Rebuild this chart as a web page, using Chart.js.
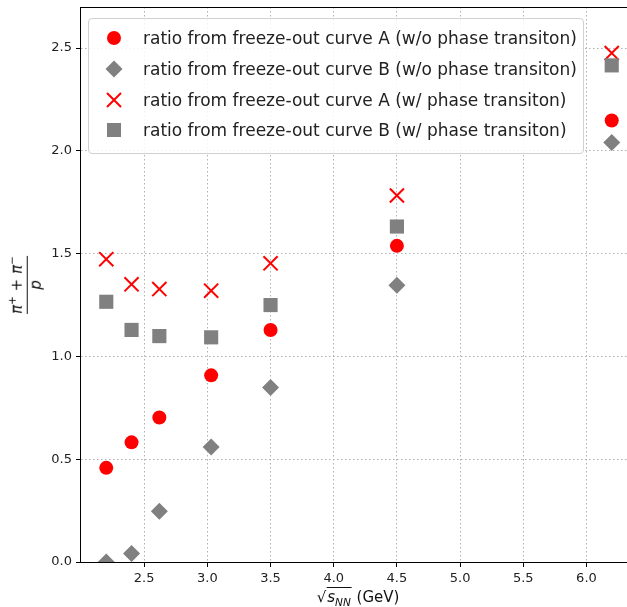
<!DOCTYPE html>
<html>
<head>
<meta charset="utf-8">
<script src="https://cdn.jsdelivr.net/npm/chart.js@4"></script>
<style>
  body { margin: 0; overflow: hidden; background: #fff; font-family: "DejaVu Sans", sans-serif; }
  #wrap { position: relative; width: 640px; height: 607px; }
  #legend {
    position: absolute; left: 88px; top: 18px; width: 494px; height: 130px;
    border: 1px solid #d0d0d0; border-radius: 4px; background: rgba(255,255,255,0.85);
    padding-top: 4px; box-sizing: content-box;
  }
  .row { height: 30.7px; display: flex; align-items: center; font-size: 17px; color: #222; white-space: nowrap; }
  .row svg { margin-left: 15px; margin-right: 19px; }
  #ylab {
    position: absolute; left: 27px; top: 285px; text-align: center; font-size: 15px; line-height: 1.05;
    transform: translate(-50%, -50%) rotate(-90deg); color: #111; white-space: nowrap;
  }
  #ylab .bar { border-top: 1px solid #111; margin: 1px 0; }
  #xlab {
    position: absolute; left: 358px; top: 597px; transform: translate(-50%, -50%);
    font-size: 15px; color: #111; white-space: nowrap;
  }
  sup, sub { font-size: 70%; line-height: 0; }
</style>
</head>
<body>
<div id="wrap">
  <canvas id="ratio-chart" width="640" height="607"></canvas>
  <div id="legend"></div>
  <div id="ylab">
    <div><i>π</i><sup>+</sup> + <i>π</i><sup>−</sup></div>
    <div class="bar"></div>
    <div><i>p</i></div>
  </div>
  <div id="xlab">√<span style="border-top:1px solid #111;padding:0 1px;"><i>s</i><sub><i>NN</i></sub></span> (GeV)</div>
</div>
<script>
// Collision energies and pi/p ratios
const energies = [2.2, 2.4, 2.62, 3.03, 3.5, 4.5, 6.2];
const ratioA = [0.458, 0.582, 0.703, 0.908, 1.129, 1.538, 2.148];
const ratioB = [0.0, 0.041, 0.247, 0.559, 0.849, 1.346, 2.041];
const ratioAPT = [1.473, 1.351, 1.328, 1.32, 1.453, 1.783, 2.476];
const ratioBPT = [1.266, 1.129, 1.099, 1.093, 1.25, 1.632, 2.416];

const seriesLabels = [
  "ratio from freeze-out curve A (w/o phase transiton)",
  "ratio from freeze-out curve B (w/o phase transiton)",
  "ratio from freeze-out curve A (w/ phase transiton)",
  "ratio from freeze-out curve B (w/ phase transiton)",
];

const xTicks = [2.5, 3.0, 3.5, 4.0, 4.5, 5.0, 5.5, 6.0];
const yTicks = [0.0, 0.5, 1.0, 1.5, 2.0, 2.5];

const RED = "#ff0000";
const GRAY = "#808080";

function toPoints(ys) {
  return energies.map((x, i) => ({ x: x, y: ys[i] }));
}

// Legend markers (small svgs)
const legendIcons = [
  '<svg width="20" height="20"><circle cx="10" cy="10" r="7" fill="' + RED + '"/></svg>',
  '<svg width="20" height="20"><polygon points="10,1.5 18.5,10 10,18.5 1.5,10" fill="' + GRAY + '"/></svg>',
  '<svg width="20" height="20"><path d="M3,3 L17,17 M17,3 L3,17" stroke="' + RED + '" stroke-width="2"/></svg>',
  '<svg width="20" height="20"><rect x="3" y="3" width="14" height="14" fill="' + GRAY + '"/></svg>',
];
document.getElementById("legend").innerHTML = seriesLabels
  .map((label, i) => '<div class="row">' + legendIcons[i] + "<span>" + label + "</span></div>")
  .join("");

// Draw the box around the plot area
const framePlugin = {
  id: "frame",
  afterDatasetsDraw(chart) {
    const a = chart.chartArea;
    const c = chart.ctx;
    c.save();
    c.strokeStyle = "#000";
    c.lineWidth = 1;
    c.strokeRect(Math.round(a.left) - 0.5, Math.round(a.top) + 0.5, Math.round(a.right - a.left), Math.round(a.bottom - a.top));
    c.restore();
  },
};

const gridStyle = {
  color: "#b0b0b0",
  lineWidth: 1,
  drawTicks: true,
  tickLength: 5,
  tickColor: "#000",
  tickBorderDash: [],
  tickWidth: 1,
};

// in v4 the grid line dash lives in border options
const borderStyle = { display: false, dash: [1.5, 2.5] };

const tickFont = { family: "DejaVu Sans", size: 13 };

const ctx = document.getElementById("ratio-chart").getContext("2d");
const ratioChart = new Chart(ctx, {
  type: "scatter",
  data: {
    datasets: [
      {
        label: seriesLabels[0],
        data: toPoints(ratioA),
        pointStyle: "circle",
        pointRadius: 7,
        backgroundColor: RED,
        borderColor: RED,
        borderWidth: 0,
        order: 4,
      },
      {
        label: seriesLabels[1],
        data: toPoints(ratioB),
        pointStyle: "rectRot",
        pointRadius: 8.5,
        backgroundColor: GRAY,
        borderColor: GRAY,
        borderWidth: 0,
        order: 3,
      },
      {
        label: seriesLabels[2],
        data: toPoints(ratioAPT),
        pointStyle: "crossRot",
        pointRadius: 10,
        backgroundColor: RED,
        borderColor: RED,
        borderWidth: 2,
        order: 2,
      },
      {
        label: seriesLabels[3],
        data: toPoints(ratioBPT),
        pointStyle: "rect",
        pointRadius: 10,
        backgroundColor: GRAY,
        borderColor: GRAY,
        borderWidth: 0,
        order: 1,
      },
    ],
  },
  options: {
    responsive: false,
    animation: false,
    devicePixelRatio: 1,
    layout: { autoPadding: false, padding: { top: 7, right: 3, left: 0, bottom: 0 } },
    plugins: {
      legend: { display: false },
      tooltip: { enabled: false },
    },
    scales: {
      x: {
        type: "linear",
        min: 2.0,
        max: 6.4,
        afterBuildTicks: (scale) => {
          scale.ticks = xTicks.map((v) => ({ value: v }));
        },
        afterFit: (scale) => {
          scale.height = 45;
          scale.paddingLeft = 0;
          scale.paddingRight = 0;
        },
        grid: gridStyle,
        border: borderStyle,
        ticks: {
          padding: 4,
          color: "#222",
          font: tickFont,
          maxRotation: 0,
          callback: (v) => Number(v).toFixed(1),
        },
      },
      y: {
        type: "linear",
        min: 0,
        max: 2.7,
        afterBuildTicks: (scale) => {
          scale.ticks = yTicks.map((v) => ({ value: v }));
        },
        afterFit: (scale) => {
          scale.width = 81;
          scale.paddingTop = 0;
          scale.paddingBottom = 0;
        },
        grid: gridStyle,
        border: borderStyle,
        ticks: {
          padding: 4,
          color: "#222",
          font: tickFont,
          callback: (v) => Number(v).toFixed(1),
        },
      },
    },
  },
  plugins: [framePlugin],
});
</script>
</body>
</html>
